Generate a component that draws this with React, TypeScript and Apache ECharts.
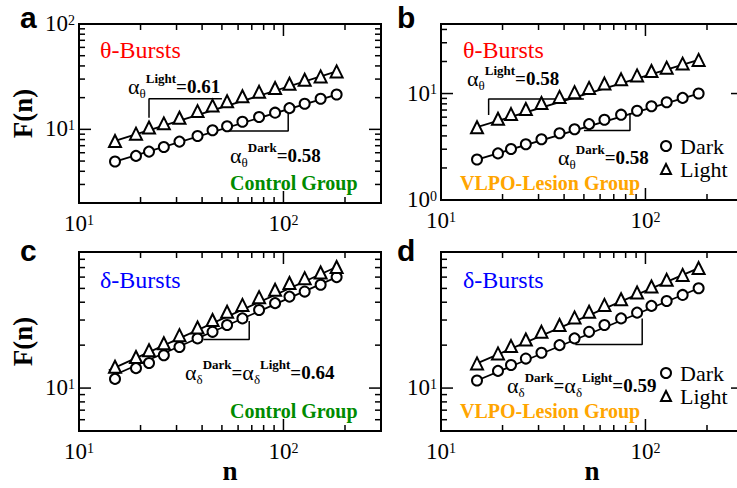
import React, { useEffect, useRef } from 'react';
import * as echarts from 'echarts';

// ---------- data ----------
const N_BOX = [15, 19, 22, 26, 31, 38, 45, 53, 63, 76, 91, 107, 127, 152, 182];

const A_DARK = [4.95, 5.6, 6.15, 6.8, 7.65, 8.65, 9.8, 10.7, 11.8, 13.1, 14.4, 15.9, 17.5, 19.5, 21.4];
const A_LIGHT = [7.76, 9.1, 10.4, 11.4, 12.9, 14.9, 16.8, 18.5, 20.6, 22.7, 24.7, 27.1, 29.6, 31.8, 35.5];
const B_DARK = [2.4, 2.74, 3.01, 3.34, 3.72, 4.24, 4.62, 5.16, 5.67, 6.33, 6.9, 7.59, 8.28, 9.1, 10.0];
const B_LIGHT = [4.83, 5.8, 6.41, 7.15, 8.16, 9.3, 10.3, 11.3, 12.4, 13.6, 14.8, 16.3, 17.5, 19.1, 20.7];
const C_DARK = [11.6, 13.8, 15.0, 17.0, 19.4, 22.3, 24.8, 27.7, 30.8, 35.3, 39.4, 43.8, 47.5, 53.0, 60.0];
const C_LIGHT = [14.1, 16.5, 18.4, 20.6, 23.5, 26.6, 30.0, 34.3, 38.3, 43.4, 48.9, 54.5, 59.0, 64.6, 70.6];
const D_DARK = [11.3, 13.2, 14.5, 16.1, 17.7, 20.0, 22.3, 24.8, 27.7, 30.8, 33.8, 37.7, 40.8, 45.0, 50.1];
const D_LIGHT = [14.9, 17.5, 19.7, 21.9, 24.8, 27.7, 31.3, 34.3, 38.3, 42.0, 46.8, 51.5, 57.4, 62.2, 69.4];

const FIT_A_DARK = [[15, 4.95], [182, 21.4]];
const FIT_A_LIGHT = [[15, 7.76], [182, 35.5]];
const FIT_B_DARK = [[15, 2.4], [182, 10.0]];
const FIT_B_LIGHT = [[15, 4.83], [182, 20.7]];
const FIT_C_DARK = [[15, 12.4], [182, 60.0]];
const FIT_C_LIGHT = [[14, 13.3], [185, 71.5]];
const FIT_D_DARK = [[15, 11.3], [182, 50.1]];
const FIT_D_LIGHT = [[15, 14.9], [182, 69.4]];

const BRACKET_A_LIGHT = [[22, 12.9], [22, 19.5], [50, 19.5]];
const BRACKET_A_DARK = [[52.7, 9.64], [105.5, 9.64], [105.5, 15.5]];
const BRACKET_B_LIGHT = [[17.1, 6.3], [17.1, 8.9], [50, 8.9]];
const BRACKET_B_DARK = [[50, 4.49], [84, 4.49], [84, 6.56]];
const BRACKET_C = [[40.6, 21.9], [68, 21.9], [68, 29.5]];
const BRACKET_D = [[45.4, 20.2], [96.4, 20.2], [96.4, 30.8]];

const X_RANGE = [10, 300];
const Y_RANGE_A = [2, 100];
const Y_RANGE_B = [1, 45];
const Y_RANGE_CD = [5, 90];

const X_MAJOR = [100];
const X_MINOR = [20, 30, 40, 50, 60, 70, 80, 90, 200];
const Y_MAJOR_A = [10];
const Y_MINOR_A = [3, 4, 5, 6, 7, 8, 9, 20, 30, 40, 50, 60, 70, 80, 90];
const Y_MAJOR_B = [10];
const Y_MINOR_B = [2, 3, 4, 5, 6, 7, 8, 9, 20, 30, 40];
const Y_MAJOR_CD = [10];
const Y_MINOR_CD = [6, 7, 8, 9, 20, 30, 40, 50, 60, 70, 80];

// ---------- styling ----------
const SERIF = "'Liberation Serif', 'Times New Roman', serif";
const SANS = "'Liberation Sans', Arial, sans-serif";

const panels = [
  { grid: { left: 79, top: 24, width: 302, height: 179 }, y: Y_RANGE_A, dark: A_DARK, light: A_LIGHT, fits: [FIT_A_DARK, FIT_A_LIGHT], brackets: [BRACKET_A_LIGHT, BRACKET_A_DARK], yMajor: Y_MAJOR_A, yMinor: Y_MINOR_A },
  { grid: { left: 441, top: 24, width: 302, height: 176 }, y: Y_RANGE_B, dark: B_DARK, light: B_LIGHT, fits: [FIT_B_DARK, FIT_B_LIGHT], brackets: [BRACKET_B_LIGHT, BRACKET_B_DARK], yMajor: Y_MAJOR_B, yMinor: Y_MINOR_B },
  { grid: { left: 79, top: 252, width: 302, height: 179 }, y: Y_RANGE_CD, dark: C_DARK, light: C_LIGHT, fits: [FIT_C_DARK, FIT_C_LIGHT], brackets: [BRACKET_C], yMajor: Y_MAJOR_CD, yMinor: Y_MINOR_CD },
  { grid: { left: 441, top: 252, width: 302, height: 179 }, y: Y_RANGE_CD, dark: D_DARK, light: D_LIGHT, fits: [FIT_D_DARK, FIT_D_LIGHT], brackets: [BRACKET_D], yMajor: Y_MAJOR_CD, yMinor: Y_MINOR_CD },
];

const powLabel = (v: number) => {
  const e = Math.log10(v);
  const r = Math.round(e);
  if (Math.abs(e - r) > 1e-6) return '';
  return `{b|10}{s|${r}}`;
};

const LABEL_RICH = {
  b: { fontFamily: SERIF, fontSize: 23, lineHeight: 22, verticalAlign: 'bottom', color: '#000' },
  s: { fontFamily: SERIF, fontSize: 14, lineHeight: 4, verticalAlign: 'top', color: '#000' },
};

const ANN_RICH = {
  a: { fontFamily: SERIF, fontSize: 22, lineHeight: 28, fill: '#000' },
  s: { fontFamily: SERIF, fontSize: 13, lineHeight: 14, verticalAlign: 'bottom', fill: '#000' },
  p: { fontFamily: SERIF, fontSize: 13, fontWeight: 'bold', lineHeight: 6, verticalAlign: 'top', fill: '#000' },
  e: { fontFamily: SERIF, fontSize: 19, fontWeight: 'bold', lineHeight: 28, fill: '#000' },
};

const text = (x: number, y: number, t: string, st: any, extra: any = {}) => ({
  type: 'text',
  x,
  y,
  silent: true,
  style: { text: t, align: 'left', verticalAlign: 'middle', fill: '#000', ...st },
  ...extra,
});

const ann = (x: number, y: number, t: string) => text(x, y, t, { rich: ANN_RICH });

function buildOption() {
  const grid: any[] = [];
  const xAxis: any[] = [];
  const yAxis: any[] = [];
  const series: any[] = [];

  panels.forEach((p, i) => {
    grid.push({ ...p.grid, show: true, borderColor: '#000', borderWidth: 2, backgroundColor: 'transparent', containLabel: false, outerBoundsMode: 'none' });
    xAxis.push({
      type: 'log', logBase: 10, gridIndex: i, min: X_RANGE[0], max: X_RANGE[1],
      axisLine: { show: false }, axisTick: { show: false }, splitLine: { show: false }, minorTick: { show: false },
      axisLabel: { formatter: powLabel, margin: 10, rich: LABEL_RICH, color: '#000' },
    });
    yAxis.push({
      type: 'log', logBase: 10, gridIndex: i, min: p.y[0], max: p.y[1],
      axisLine: { show: false }, axisTick: { show: false }, splitLine: { show: false }, minorTick: { show: false },
      axisLabel: { formatter: powLabel, margin: 4, rich: LABEL_RICH, color: '#000' },
    });

    p.fits.forEach((f) => {
      series.push({ type: 'line', xAxisIndex: i, yAxisIndex: i, data: f, symbol: 'none', silent: true, z: 2, lineStyle: { color: '#000', width: 1.8 } });
    });
    p.brackets.forEach((b) => {
      series.push({ type: 'line', xAxisIndex: i, yAxisIndex: i, data: b, symbol: 'none', silent: true, z: 2, lineStyle: { color: '#000', width: 1.5 } });
    });
    series.push({
      name: 'Dark', type: 'scatter', xAxisIndex: i, yAxisIndex: i, symbol: 'emptyCircle', symbolSize: 10, z: 3,
      itemStyle: { color: '#000', borderWidth: 1.6, opacity: 1 },
      data: N_BOX.map((n, k) => [n, p.dark[k]]),
    });
    series.push({
      name: 'Light', type: 'scatter', xAxisIndex: i, yAxisIndex: i, symbol: 'emptyTriangle', symbolSize: 12, z: 3,
      itemStyle: { color: '#000', borderWidth: 1.6, opacity: 1 },
      data: N_BOX.map((n, k) => [n, p.light[k]]),
    });

    const xMin = X_RANGE[0];
    const yMin = p.y[0];
    const tickData = [
      ...X_MAJOR.map((v) => [v, yMin, 0, 12]),
      ...X_MINOR.map((v) => [v, yMin, 0, 6]),
      ...p.yMajor.map((v) => [xMin, v, 1, 12]),
      ...p.yMinor.map((v) => [xMin, v, 1, 6]),
    ];
    series.push({
      type: 'custom', xAxisIndex: i, yAxisIndex: i, silent: true, z: 4, clip: false,
      encode: { x: 0, y: 1 },
      data: tickData,
      renderItem: (params: any, api: any) => {
        const cs = params.coordSys;
        const kind = api.value(2);
        const len = api.value(3);
        const st = { stroke: '#000', lineWidth: 1.5 };
        if (kind === 0) {
          const x = api.coord([api.value(0), api.value(1)])[0];
          const yb = cs.y + cs.height;
          return {
            type: 'group',
            children: [
              { type: 'line', shape: { x1: x, y1: yb, x2: x, y2: yb - len }, style: st },
              { type: 'line', shape: { x1: x, y1: cs.y, x2: x, y2: cs.y + len }, style: st },
            ],
          };
        }
        const y = api.coord([api.value(0), api.value(1)])[1];
        const xr = cs.x + cs.width;
        return {
          type: 'group',
          children: [
            { type: 'line', shape: { x1: cs.x, y1: y, x2: cs.x + len, y2: y }, style: st },
            { type: 'line', shape: { x1: xr, y1: y, x2: xr - len, y2: y }, style: st },
          ],
        };
      },
    });
  });

  const legendBase = {
    orient: 'vertical', itemWidth: 10, itemHeight: 10, itemGap: 1, padding: 0, selectedMode: false,
    data: [{ name: 'Dark', icon: 'emptyCircle' }, { name: 'Light', icon: 'emptyTriangle' }],
    itemStyle: { borderWidth: 1.6, opacity: 1 },
    textStyle: { fontFamily: SERIF, fontSize: 22, lineHeight: 22, color: '#000', padding: [0, 0, 0, 4] },
  };

  const title = { fontFamily: SERIF, fontSize: 24 };
  const group = { fontFamily: SERIF, fontSize: 20, fontWeight: 'bold' };
  const letter = { fontFamily: SANS, fontSize: 30, fontWeight: 'bold' };
  const axisName = { fontFamily: SERIF, fontSize: 27, fontWeight: 'bold', align: 'center' };

  const graphic = [
    text(20, 17, 'a', letter),
    text(397, 17, 'b', letter),
    text(20, 250, 'c', letter),
    text(397, 250, 'd', letter),
    text(23, 113.5, 'F(n)', axisName, { rotation: Math.PI / 2 }),
    text(23, 341.5, 'F(n)', axisName, { rotation: Math.PI / 2 }),
    text(230, 471, 'n', axisName),
    text(592, 471, 'n', axisName),
    text(100, 50, 'θ-Bursts', { ...title, fill: '#ff0000' }),
    text(463, 50, 'θ-Bursts', { ...title, fill: '#ff0000' }),
    text(100, 280, 'δ-Bursts', { ...title, fill: '#0000ff' }),
    text(463, 280, 'δ-Bursts', { ...title, fill: '#0000ff' }),
    text(230, 183, 'Control Group', { ...group, fill: '#008b00' }),
    text(230, 411, 'Control Group', { ...group, fill: '#008b00' }),
    text(460, 183, 'VLPO-Lesion Group', { ...group, fill: '#ffa500' }),
    text(460, 411, 'VLPO-Lesion Group', { ...group, fill: '#ffa500' }),
    ann(128, 86, '{a|α}{s|θ}{p|Light}{e|=0.61}'),
    ann(230, 155, '{a|α}{s|θ}{p|Dark}{e|=0.58}'),
    ann(467, 78, '{a|α}{s|θ}{p|Light}{e|=0.58}'),
    ann(558, 157, '{a|α}{s|θ}{p|Dark}{e|=0.58}'),
    ann(185, 372, '{a|α}{s|δ}{p|Dark}{e|=}{a|α}{s|δ}{p|Light}{e|=0.64}'),
    ann(507, 385, '{a|α}{s|δ}{p|Dark}{e|=}{a|α}{s|δ}{p|Light}{e|=0.59}'),
  ];

  return {
    animation: false,
    backgroundColor: '#fff',
    grid,
    xAxis,
    yAxis,
    series,
    legend: [
      { ...legendBase, left: 660, top: 135 },
      { ...legendBase, left: 660, top: 362 },
    ],
    graphic,
  };
}

export default function App() {
  const ref = useRef<HTMLDivElement>(null);
  useEffect(() => {
    if (!ref.current) return;
    const chart = echarts.init(ref.current, undefined, { renderer: 'svg' });
    chart.setOption(buildOption() as any);
    return () => chart.dispose();
  }, []);
  return <div ref={ref} style={{ position: 'absolute', left: 0, top: 0, width: 737, height: 488 }} />;
}
